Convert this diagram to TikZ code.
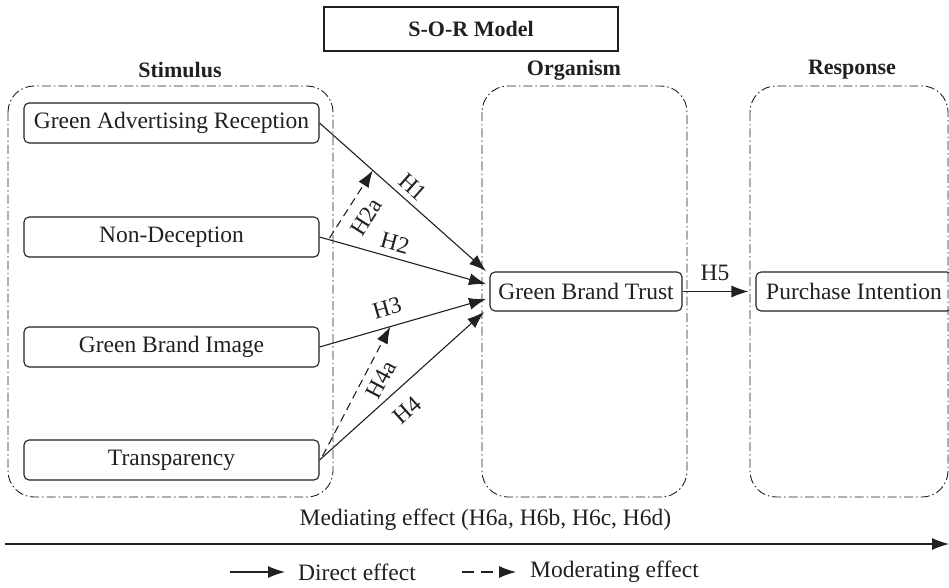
\documentclass[tikz,border=0pt]{standalone}
\usepackage{fontspec}
\setmainfont{Liberation Serif}
\usetikzlibrary{arrows.meta,calc}
\newcommand\myTxt{\fontsize{23.5}{26}\selectfont}
\newcommand\myHead{\fontsize{22}{24}\selectfont\bfseries}
\definecolor{ink}{HTML}{231F20}
\begin{document}
\begin{tikzpicture}[x=1pt,y=-1pt,
  every node/.style={text=ink},
  stimbox/.style={draw=ink, rounded corners=5pt, line width=1.1pt, minimum width=295pt, minimum height=40pt, inner sep=0pt, font=\myTxt},
  orgbox/.style={stimbox, minimum width=192pt, minimum height=39pt},
  grp/.style={draw=ink, rounded corners=26pt, line width=0.9pt, dash pattern=on 9pt off 3pt on 1.5pt off 3pt},
  arr/.style={draw=ink, line width=1.1pt, -{Latex[length=17pt,width=12pt]}},
  modarr/.style={arr, dash pattern=on 8pt off 5pt},
  hlab/.style={font=\myTxt, inner sep=0pt},
  headlab/.style={font=\myHead, inner sep=0pt}
]
\useasboundingbox (0,0) rectangle (949,588);

% title
\node[draw=ink, line width=1.2pt, minimum width=294pt, minimum height=44pt, inner sep=0pt, font=\myHead] (sor) at (471,29) {S-O-R Model};
\node[headlab] (stim) at (180,70) {Stimulus};
\node[headlab] (org) at (574,70) {Organism};
\node[headlab] (resp) at (852,70) {Response};

% groups
\draw[grp] (8,86) rectangle (333,497);
\draw[grp] (482,86) rectangle (687,497);
\draw[grp] (750,86) rectangle (948,497);

% stimulus nodes
\node[stimbox] (gar) at (171.5,123) {Green Advertising Reception};
\node[stimbox] (nd)  at (171.5,237) {Non-Deception};
\node[stimbox] (gbi) at (171.5,347) {Green Brand Image};
\node[stimbox] (tr)  at (171.5,460) {Transparency};

% organism / response
\node[orgbox] (gbt) at (586,291.5) {Green Brand Trust};
\node[orgbox, minimum width=196pt] (pi) at (854,291.5) {Purchase Intention};

% arrow tips at Green Brand Trust
\coordinate (t1) at (486,271);
\coordinate (t2) at (486,284);
\coordinate (t3) at (486,299);
\coordinate (t4) at (484,312);

\draw[arr] (gar.east) -- (t1);
\draw[arr] (nd.east) -- (t2);
\draw[arr] (gbi.east) -- (t3);
\draw[arr] (tr.east) -- (t4);
\draw[arr, shorten >=7pt] (gbt.east) -- (pi.west);

% moderating arrows
\coordinate (m2s) at ($(nd.east)+(10,1)$);
\coordinate (m2e) at ($(gar.east)!0.32!(t1)$);
\coordinate (m4s) at ($(tr.east)+(3,-4)$);
\coordinate (m4e) at ($(gbi.east)!0.425!(t3)$);
\draw[modarr] (m2s) -- (m2e);
\draw[modarr] (m4s) -- (m4e);

% hypothesis labels
\node[hlab, rotate=-41.5] (h1) at (413,187) {H1};
\node[hlab, rotate=-15.7] (h2) at (395,243) {H2};
\node[hlab, rotate=16] (h3) at (387,308) {H3};
\node[hlab, rotate=42] (h4) at (407,410) {H4};
\node[hlab, rotate=57.7] (h2a) at (366,217) {H2a};
\node[hlab, rotate=62.2] (h4a) at (381,380) {H4a};
\node[hlab] (h5) at (715,273) {H5};

% mediating
\node[hlab] (med) at (485.5,520) {Mediating effect (H6a, H6b, H6c, H6d)};
\coordinate (ma) at (5,544);
\coordinate (mb) at (949,544);
\draw[arr] (ma) -- (mb);

% legend
\node[hlab, anchor=west] (l1t) at (298,572) {Direct effect};
\node[hlab, anchor=west] (l2t) at (530,572) {Moderating effect};
\coordinate (l1s) at (230,572);
\coordinate (l2s) at (462,572);
\draw[arr, shorten >=13pt] (l1s) -- (l1t.west);
\draw[arr, dash pattern=on 12pt off 7pt, shorten >=14pt] (l2s) -- (l2t.west);
\end{tikzpicture}
\end{document}
